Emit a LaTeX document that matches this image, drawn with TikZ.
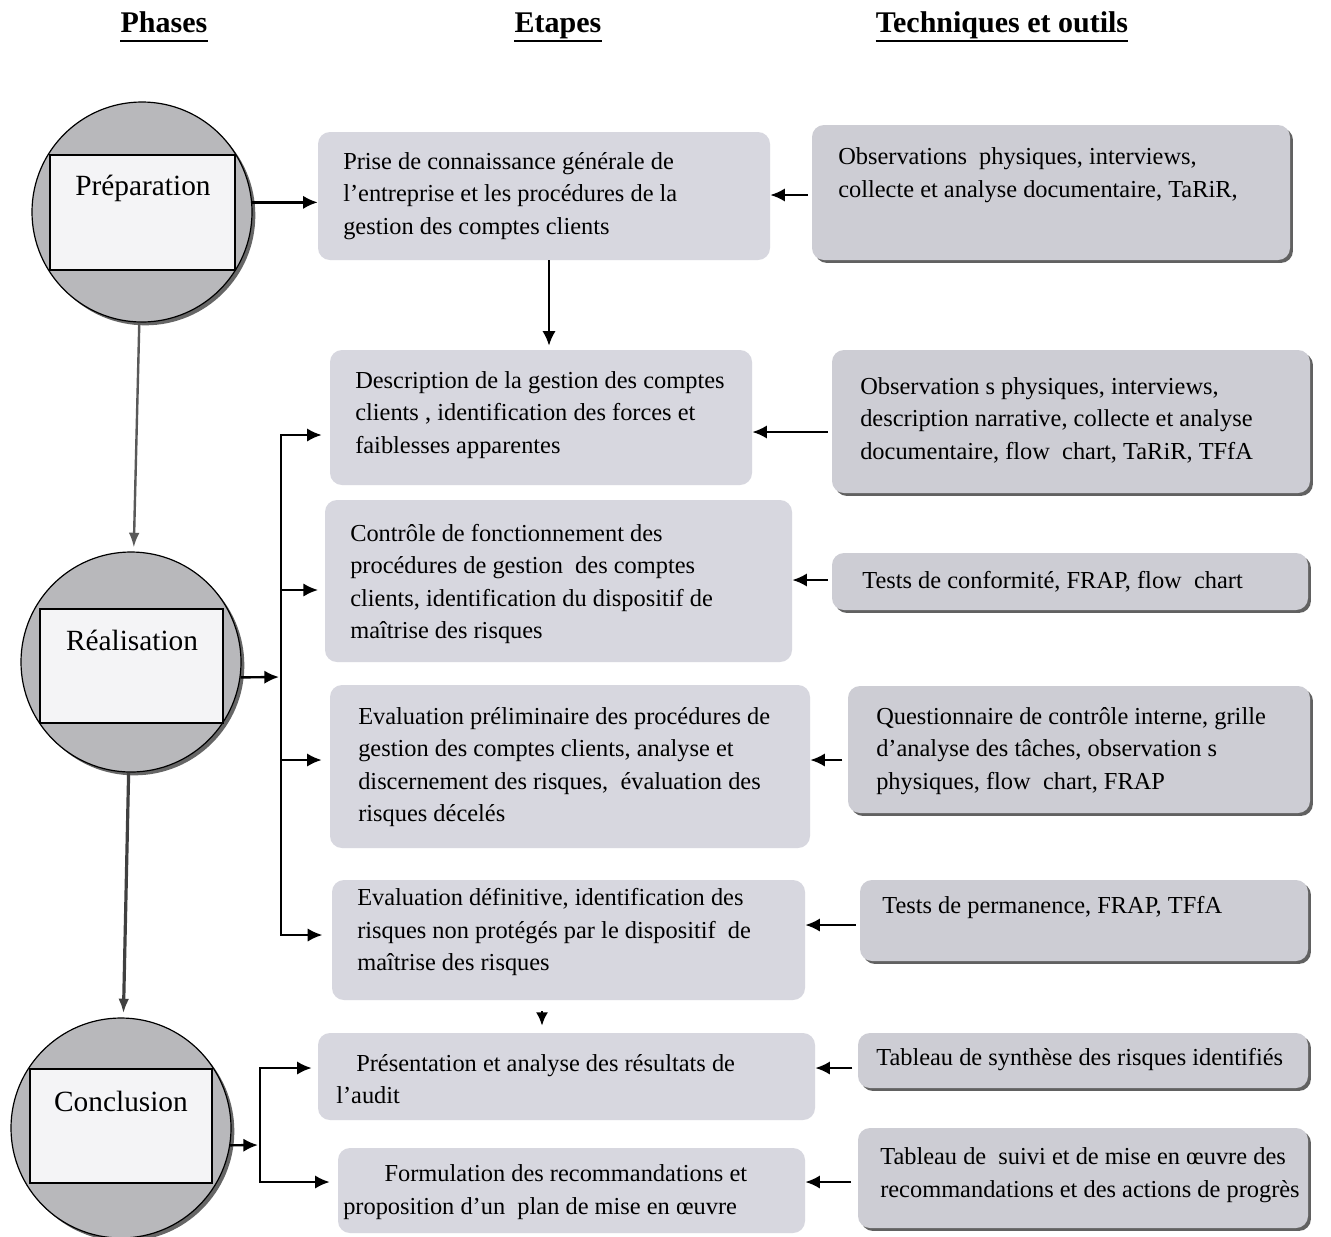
\documentclass[tikz,border=0pt]{standalone}
\usepackage{fontspec}
\setmainfont{Liberation Serif}
\usetikzlibrary{arrows.meta,fit,calc,shadows}
\definecolor{ebg}{HTML}{D7D7DF}
\definecolor{tbg}{HTML}{CDCDD4}
\definecolor{cbg}{HTML}{B8B8BB}
\definecolor{rbg}{HTML}{F4F4F6}
\begin{document}
\begin{tikzpicture}[x=0.75pt,y=-0.75pt,
  ebox/.style={fill=ebg, rounded corners=9pt, inner sep=0pt},
  tbox/.style={fill=tbg, rounded corners=9pt, inner sep=0pt,
     drop shadow={shadow xshift=2.2pt, shadow yshift=-2.2pt, fill=black!62, opacity=1}},
  txt/.style={font=\fontsize{18.3}{24.4}\selectfont, align=left, inner sep=0pt, anchor=west},
  ptxt/.style={font=\fontsize{22}{26}\selectfont, inner sep=0pt},
  hdr/.style={font=\fontsize{22.5}{27}\selectfont\bfseries, inner sep=0pt, anchor=base},
  phase/.style={circle, draw=black, line width=0.9pt, fill=cbg, minimum size=165pt, inner sep=0pt,
     drop shadow={shadow xshift=2.5pt, shadow yshift=-2.5pt, fill=black!60, opacity=1}},
  prect/.style={draw=black, line width=0.9pt, fill=rbg, inner sep=0pt},
  arr/.style={-{Latex[length=11pt,width=10pt]}, line width=1.8pt},
  bus/.style={line width=1.8pt, line cap=rect},
  varr/.style={-{Latex[length=11pt,width=8pt]}, line width=1.8pt, draw=black!65},
  uline/.style={line width=1.6pt}
]
\useasboundingbox (0,0) rectangle (1331,1236);
\fill[white] (0,0) rectangle (1331,1236);

% headers
\node[hdr] (h1) at (164,32) {Phases};
\node[hdr] (h2) at (558,32) {Etapes};
\node[hdr] (h3) at (1002,32) {Techniques et outils};
\foreach \h in {h1,h2,h3}{
  \draw[uline] ($(\h.base west)+(0,9)$) -- ($(\h.base east)+(0,9)$);
}

% phases
\node[phase] (cP) at (142,212) {};
\node[prect, fit={(50,155) (235,270)}] (rP) {};
\node[ptxt] (tP) at (143,188) {Préparation};

\node[phase] (cR) at (131,662) {};
\node[prect, fit={(40,609) (223,723)}] (rR) {};
\node[ptxt] (tR) at (132,640) {Réalisation};

\node[phase] (cC) at (121,1128) {};
\node[prect, fit={(30,1069) (212,1183)}] (rC) {};
\node[ptxt] (tC) at (121,1101) {Conclusion};

% etapes boxes
\node[ebox, fit={(318,132) (770,260)}] (E1) {};
\node[ebox, fit={(330,350) (752,485)}] (E2) {};
\node[ebox, fit={(325,500) (792,662)}] (E3) {};
\node[ebox, fit={(330,685) (810,848)}] (E4) {};
\node[ebox, fit={(332,880) (805,1000)}] (E5) {};
\node[ebox, fit={(318,1033) (815,1120)}] (E6) {};
\node[ebox, fit={(338,1148) (805,1233)}] (E7) {};

\node[txt] (E1t) at (343,196) {Prise de connaissance générale de\\l’entreprise et les procédures de la\\gestion des comptes clients};
\node[txt] (E2t) at (355,415) {Description de la gestion des comptes\\clients , identification des forces et\\faiblesses apparentes};
\node[txt] (E3t) at (350,584) {Contrôle de fonctionnement des\\procédures de gestion\ \ des comptes\\clients, identification du dispositif de\\maîtrise des risques};
\node[txt] (E4t) at (358,767) {Evaluation préliminaire des procédures de\\gestion des comptes clients, analyse et\\discernement des risques,\ \ évaluation des\\risques décelés};
\node[txt] (E5t) at (357,932) {Evaluation définitive, identification des\\risques non protégés par le dispositif\ \ de\\maîtrise des risques};
\node[txt] (E6t) at (336,1079) {\hspace*{15pt}Présentation et analyse des résultats de\\l’audit};
\node[txt] (E7t) at (343,1192) {\hspace*{31pt}Formulation des recommandations et\\proposition d’un\ \ plan de mise en œuvre};

% techniques boxes
\node[tbox, fit={(812,125) (1290,260)}] (T1) {};
\node[tbox, fit={(832,350) (1310,493)}] (T2) {};
\node[tbox, fit={(832,553) (1308,610)}] (T3) {};
\node[tbox, fit={(848,686) (1310,813)}] (T4) {};
\node[tbox, fit={(860,880) (1308,961)}] (T5) {};
\node[tbox, fit={(858,1033) (1308,1088)}] (T6) {};
\node[tbox, fit={(858,1128) (1308,1228)}] (T7) {};

\node[txt] (T1t) at (838,175) {Observations\ \ physiques, interviews,\\collecte et analyse documentaire, TaRiR,};
\node[txt] (T2t) at (860,420) {Observation s physiques, interviews,\\description narrative, collecte et analyse\\documentaire, flow\ \ chart, TaRiR, TFfA};
\node[txt] (T3t) at (862,582) {Tests de conformité, FRAP, flow\ \ chart};
\node[txt] (T4t) at (876,751) {Questionnaire de contrôle interne, grille\\d’analyse des tâches, observation s\\physiques, flow\ \ chart, FRAP};
\node[txt] (T5t) at (882,907) {Tests de permanence, FRAP, TFfA};
\node[txt] (T6t) at (876,1060) {Tableau de synthèse des risques identifiés};
\node[txt] (T7t) at (880,1175) {Tableau de\ \ suivi et de mise en œuvre des\\recommandations et des actions de progrès};

% arrow levels
\coordinate (y1) at (0,195);
\coordinate (y2) at (0,432);
\coordinate (y3) at (0,580);
\coordinate (y4) at (0,760);
\coordinate (y5) at (0,925);
\coordinate (y6) at (0,1068);
\coordinate (y7) at (0,1182);

% techniques -> etapes
\draw[arr, shorten <=3pt] (T1.west|-y1) -- (E1.east|-y1);
\draw[arr, shorten <=3pt] (T2.west|-y2) -- (E2.east|-y2);
\draw[arr, shorten <=3pt] (T3.west|-y3) -- (E3.east|-y3);
\draw[arr, shorten <=4pt] (T4.west|-y4) -- (E4.east|-y4);
\draw[arr, shorten <=3pt] (T5.west|-y5) -- (E5.east|-y5);
\draw[arr, shorten <=4pt] (T6.west|-y6) -- (E6.east|-y6);
\draw[arr, shorten <=5pt] (T7.west|-y7) -- (E7.east|-y7);

% preparation
\draw[arr] (cP.5) -- (E1.west|-cP.5);

% etapes chain
\coordinate (x12) at (549,0);
\draw[arr, shorten >=3pt] (E1.south-|x12) -- (E2.north-|x12);
\coordinate (x56) at (542,0);
\draw[-{Latex[length=10pt,width=9pt]}, line width=1.8pt] ($(E5.south-|x56)+(0,11)$) -- ($(E6.north-|x56)+(0,-7)$);

% realisation bus
\coordinate (rb) at (279,677);
\coordinate (b2) at (281,435);
\coordinate (b3) at (281,590);
\coordinate (b4) at (281,760);
\coordinate (b5) at (281,935);
\draw[arr] (cR.-8) -- (rb);
\draw[bus] (b2) -- (b5);
\draw[arr, shorten >=6pt] (b2) -- (E2.west|-b2);
\draw[arr, shorten >=5pt] (b3) -- (E3.west|-b3);
\draw[arr, shorten >=6pt] (b4) -- (E4.west|-b4);
\draw[arr, shorten >=7pt] (b5) -- (E5.west|-b5);

% conclusion bus
\coordinate (cb) at (258,1145);
\coordinate (c6) at (260,1068);
\coordinate (c7) at (260,1182);
\draw[arr] (cC.-9) -- (cb);
\draw[bus] (c6) -- (c7);
\draw[arr, shorten >=4.5pt] (c6) -- (E6.west|-c6);
\draw[arr, shorten >=6pt] (c7) -- (E7.west|-c7);

% phase arrows
\draw[varr, shorten >=3pt] (cP) -- (cR);
\draw[varr, shorten >=3pt, draw=black!75, line width=2.4pt] (cR) -- (cC);
\end{tikzpicture}
\end{document}
